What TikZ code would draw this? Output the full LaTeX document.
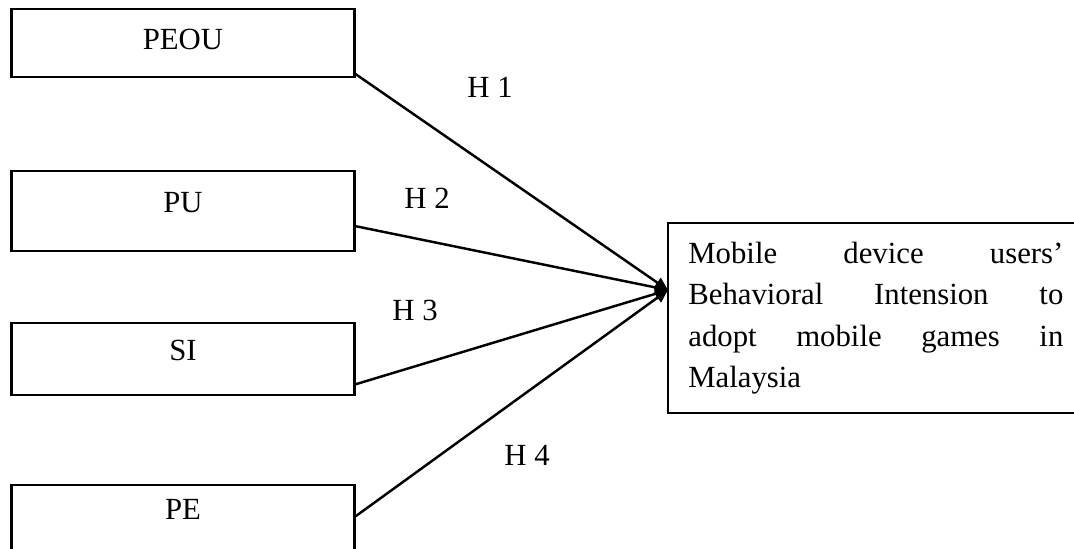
\documentclass[tikz,border=0pt]{standalone}
\usepackage{fontspec}
\setmainfont{Liberation Serif}
\usetikzlibrary{arrows.meta, positioning}

\begin{document}
\begin{tikzpicture}[
  box/.style={draw, line width=1.2pt, minimum width=6.86cm, text height=0.42cm, text depth=0.38cm,
              font=\fontsize{17.5}{21}\selectfont},
  goalbox/.style={text width=7.5cm, minimum height=3.8cm, inner xsep=0.4cm, align=justify,
                  font=\fontsize{17.5}{23.6}\selectfont},
  hyp/.style={font=\fontsize{17.5}{21}\selectfont},
  arr/.style={-{Triangle[length=2.6mm, width=2.3mm]}, line width=1.4pt}
]
  \useasboundingbox (0,0) rectangle (21.48,-10.96);

  \node[box, minimum height=1.36cm, text depth=0.16cm] (peou) at (3.66,-0.86) {PEOU};
  \node[box, minimum height=1.6cm, below=1.84cm of peou] (pu) {PU};
  \node[box, minimum height=1.44cm, below=1.4cm of pu] (si) {SI};
  \node[box, minimum height=1.6cm, text depth=0.66cm, below=1.76cm of si] (pe) {PE};

  \node[goalbox, anchor=west] (goal) at (13.36,-6.36)
    {Mobile device users'\linebreak Behavioral Intension to\linebreak
     adopt mobile games in\linebreak Malaysia};
  % right side of the box runs off the page
  \draw[line width=1.2pt] ([xshift=1cm]goal.north east) -- (goal.north west)
    -- (goal.south west) -- ([xshift=1cm]goal.south east);
  \coordinate (tip) at ([yshift=0.56cm]goal.west);

  \draw[arr] ([yshift=0.08cm]peou.south east) -- (tip);
  \draw[arr] ([yshift=0.52cm]pu.south east) -- (tip);
  \draw[arr] ([yshift=0.24cm]si.south east) -- (tip);
  \draw[arr] ([yshift=-0.64cm]pe.north east) -- (tip);

  % hypothesis labels
  \node[hyp] (h1) at (9.8,-1.74) {H 1};
  \node[hyp] (h2) at (8.54,-3.96) {H 2};
  \node[hyp] (h3) at (8.3,-6.2) {H 3};
  \node[hyp] (h4) at (10.54,-9.1) {H 4};
\end{tikzpicture}
\end{document}
